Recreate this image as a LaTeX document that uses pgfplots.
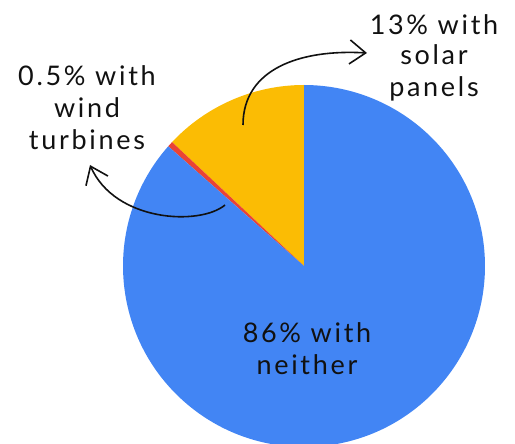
\documentclass[border=0pt]{standalone}
\usepackage{fontspec}
\setmainfont[LetterSpace=10]{Lato}
\usepackage{pgfplots}
\usepackage{pgfplotstable}
\pgfplotsset{compat=1.18}
\usetikzlibrary{arrows.meta}
\definecolor{pieblue}{HTML}{4285F4}
\definecolor{pieyellow}{HTML}{FBBC04}
\definecolor{piered}{HTML}{EA4335}
\definecolor{ink}{HTML}{111111}
\pgfplotstableread{
label share
solar 13
wind 0.5
neither 86.5
}\pietable
\pgfplotstablegetelem{0}{share}\of\pietable \let\shareA\pgfplotsretval
\pgfplotstablegetelem{1}{share}\of\pietable \let\shareB\pgfplotsretval
\pgfplotstablegetelem{2}{share}\of\pietable \let\shareC\pgfplotsretval
\pgfmathsetmacro\angA{90+3.6*\shareA}
\pgfmathsetmacro\angB{\angA+3.6*\shareB}
\pgfmathsetmacro\angC{\angB+3.6*\shareC}
\begin{document}
\begin{tikzpicture}
\begin{axis}[name=ax, hide axis, scale only axis, width=515bp, height=444bp,
  xmin=0, xmax=515, ymin=0, ymax=444, clip=false]
\fill[pieyellow] (axis cs:304,178) -- ++(90:181bp) arc[start angle=90, end angle=\angA, radius=181bp] -- cycle;
\fill[piered] (axis cs:304,178) -- ++(\angA:181bp) arc[start angle=\angA, end angle=\angB, radius=181bp] -- cycle;
\fill[pieblue] (axis cs:304,178) -- ++(\angB:181bp) arc[start angle=\angB, end angle=\angC, radius=181bp] -- cycle;
\begin{scope}[every node/.style={anchor=base, text=ink, inner sep=0pt, font=\fontsize{27bp}{32bp}\selectfont}]
\node at (axis cs:434,409) {13\% with};
\node at (axis cs:434,379) {solar};
\node at (axis cs:434,347) {panels};
\node at (axis cs:87,358) {0.5\% with};
\node at (axis cs:87,326) {wind};
\node at (axis cs:87,294) {turbines};
\node at (axis cs:307,101) {86\% with};
\node at (axis cs:307,69) {neither};
\end{scope}
\draw[ink, line width=1.6bp, -{Straight Barb[length=16bp, width=24bp]}]
  (axis cs:243,319) .. controls (axis cs:243,375) and (axis cs:300,395) .. (axis cs:367,391);
\draw[ink, line width=1.6bp, -{Straight Barb[length=16bp, width=24bp]}]
  (axis cs:225,239) .. controls (axis cs:200,218) and (axis cs:115,222) .. (axis cs:90,279);
\end{axis}
\pgfresetboundingbox
\useasboundingbox (ax.south west) rectangle (ax.north east);
\end{tikzpicture}
\end{document}
